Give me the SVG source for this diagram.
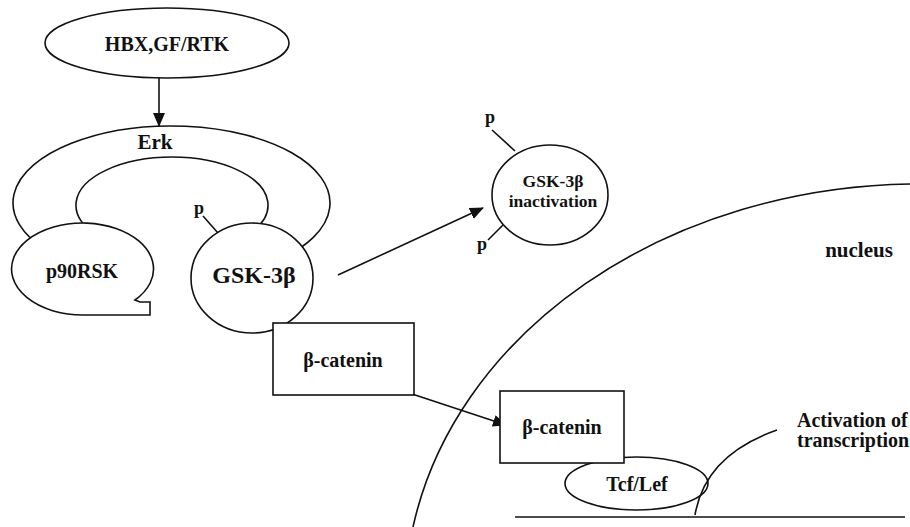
<svg xmlns="http://www.w3.org/2000/svg" width="910" height="527" viewBox="0 0 910 527">
<style>
.ln{fill:none;stroke:#111;stroke-width:1.6}
.nd{fill:#fff;stroke:#111;stroke-width:1.6}
.t{font-family:"Liberation Serif","Times New Roman",serif;font-weight:bold;fill:#111;text-anchor:middle}
</style>
<defs>
<marker id="ah" markerUnits="userSpaceOnUse" markerWidth="14" markerHeight="12" refX="13" refY="6" orient="auto">
<path d="M0,0 L14,6 L0,12 z" fill="#111"/>
</marker>
</defs>
<rect width="910" height="527" fill="#fff"/>
<g id="nucleus">
<path class="ln" d="M413,527 A515,416 0 0,1 910,184"/>
<text class="t" x="859" y="257" font-size="21">nucleus</text>
</g>
<g id="erk">
<path class="ln" d="M46,250 A158.5,77 0 1,1 278,260"/>
<path class="ln" d="M97,235 A96,48 0 1,1 247,235"/>
<text class="t" x="155" y="149" font-size="21">Erk</text>
</g>
<g id="connectors">
<line class="ln" x1="159" y1="78" x2="159" y2="126" marker-end="url(#ah)"/>
<line class="ln" x1="338" y1="275" x2="483" y2="208" marker-end="url(#ah)"/>
<line class="ln" x1="403" y1="391" x2="506" y2="425" marker-end="url(#ah)"/>
</g>
<g id="hbx">
<ellipse class="nd" cx="167" cy="43" rx="122" ry="35"/>
<text class="t" x="167" y="51" font-size="20">HBX,GF/RTK</text>
</g>
<g id="p90rsk">
<path class="nd" d="M135,300 A71,46 0 1,0 83,315 L150,315 L150,302 L140,302 Z"/>
<text class="t" x="82" y="278" font-size="20">p90RSK</text>
</g>
<g id="gsk3b">
<ellipse class="nd" cx="252" cy="278" rx="61" ry="55"/>
<line class="ln" x1="203" y1="216" x2="218" y2="233"/>
<text class="t" x="199" y="214" font-size="18">p</text>
<text class="t" x="254" y="283" font-size="24">GSK-3β</text>
</g>
<g id="bcatenin1">
<rect class="nd" x="273" y="323" width="141" height="72"/>
<text class="t" x="343" y="367" font-size="20">β-catenin</text>
</g>
<g id="gsk3b-inactivation">
<ellipse class="nd" cx="550" cy="195" rx="58" ry="50"/>
<line class="ln" x1="492" y1="130" x2="515" y2="151"/>
<line class="ln" x1="503" y1="225" x2="488" y2="240"/>
<text class="t" x="490" y="123" font-size="18">p</text>
<text class="t" x="482" y="250" font-size="18">p</text>
<text class="t" x="553" y="187" font-size="17.5">GSK-3β</text>
<text class="t" x="553" y="207" font-size="17.5">inactivation</text>
</g>
<g id="tcflef">
<ellipse class="nd" cx="636.5" cy="483.5" rx="71.5" ry="26.5"/>
<text class="t" x="637" y="491" font-size="20">Tcf/Lef</text>
</g>
<g id="bcatenin2">
<rect class="nd" x="500" y="391" width="124" height="72"/>
<text class="t" x="562" y="434" font-size="20">β-catenin</text>
</g>
<g id="transcription">
<line class="ln" x1="515" y1="517" x2="905" y2="517"/>
<path class="ln" d="M695,515 Q705,455 777,430"/>
<text class="t" x="797" y="427" font-size="20" style="text-anchor:start">Activation of</text>
<text class="t" x="797" y="447" font-size="20" style="text-anchor:start">transcription</text>
</g>
</svg>
